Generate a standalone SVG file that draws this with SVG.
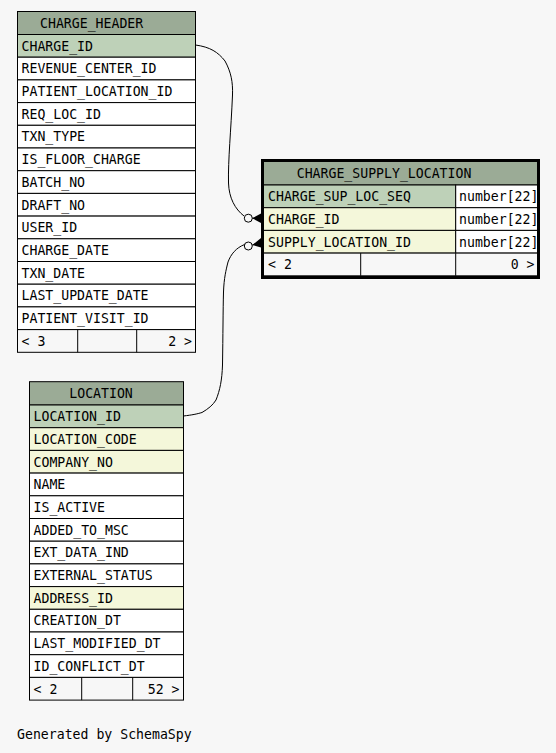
<svg xmlns="http://www.w3.org/2000/svg" width="556" height="753" viewBox="0 0 556 753">
<style>
text{font-family:"DejaVu Sans Mono","Liberation Mono",monospace;font-size:13.2px;fill:#000}
.c{stroke:#000;stroke-width:1}
.h{fill:#9bab96}
.pk{fill:#bed1b8}
.fk{fill:#f4f7da}
.w{fill:#ffffff}
.f{fill:#f7f7f7}
.e{text-anchor:end}
.ln{fill:none;stroke:#000;stroke-width:1}
</style>
<rect width="556" height="753" fill="#f7f7f7"/>
<g id="CHARGE_HEADER">
<rect class="c h" x="17.5" y="11.5" width="178" height="23"/>
<text x="40" y="27.8">CHARGE_HEADER</text>
<rect class="c pk" x="17.5" y="34.5" width="178" height="22.7"/>
<text x="21.5" y="50.6">CHARGE_ID</text>
<rect class="c w" x="17.5" y="57.2" width="178" height="22.7"/>
<text x="21.5" y="73.3">REVENUE_CENTER_ID</text>
<rect class="c w" x="17.5" y="79.9" width="178" height="22.7"/>
<text x="21.5" y="96">PATIENT_LOCATION_ID</text>
<rect class="c w" x="17.5" y="102.6" width="178" height="22.7"/>
<text x="21.5" y="118.7">REQ_LOC_ID</text>
<rect class="c w" x="17.5" y="125.3" width="178" height="22.7"/>
<text x="21.5" y="141.4">TXN_TYPE</text>
<rect class="c w" x="17.5" y="148" width="178" height="22.7"/>
<text x="21.5" y="164.1">IS_FLOOR_CHARGE</text>
<rect class="c w" x="17.5" y="170.7" width="178" height="22.7"/>
<text x="21.5" y="186.8">BATCH_NO</text>
<rect class="c w" x="17.5" y="193.4" width="178" height="22.7"/>
<text x="21.5" y="209.5">DRAFT_NO</text>
<rect class="c w" x="17.5" y="216.1" width="178" height="22.7"/>
<text x="21.5" y="232.2">USER_ID</text>
<rect class="c w" x="17.5" y="238.8" width="178" height="22.7"/>
<text x="21.5" y="254.9">CHARGE_DATE</text>
<rect class="c w" x="17.5" y="261.5" width="178" height="22.7"/>
<text x="21.5" y="277.6">TXN_DATE</text>
<rect class="c w" x="17.5" y="284.2" width="178" height="22.7"/>
<text x="21.5" y="300.3">LAST_UPDATE_DATE</text>
<rect class="c w" x="17.5" y="306.9" width="178" height="22.7"/>
<text x="21.5" y="323">PATIENT_VISIT_ID</text>
<rect class="c f" x="17.5" y="329.6" width="178" height="22.7"/>
<line class="c" x1="77.7" y1="329.6" x2="77.7" y2="352.3"/>
<line class="c" x1="136.7" y1="329.6" x2="136.7" y2="352.3"/>
<text x="21.5" y="345.7">&lt; 3</text>
<text class="e" x="192" y="345.7">2 &gt;</text>
</g>
<g id="LOCATION">
<rect class="c h" x="29.5" y="381.7" width="154" height="23.3"/>
<text x="69.3" y="398.2">LOCATION</text>
<rect class="c pk" x="29.5" y="405" width="154" height="22.7"/>
<text x="33.5" y="421.1">LOCATION_ID</text>
<rect class="c fk" x="29.5" y="427.7" width="154" height="22.7"/>
<text x="33.5" y="443.8">LOCATION_CODE</text>
<rect class="c fk" x="29.5" y="450.4" width="154" height="22.7"/>
<text x="33.5" y="466.5">COMPANY_NO</text>
<rect class="c w" x="29.5" y="473.1" width="154" height="22.7"/>
<text x="33.5" y="489.2">NAME</text>
<rect class="c w" x="29.5" y="495.8" width="154" height="22.7"/>
<text x="33.5" y="511.9">IS_ACTIVE</text>
<rect class="c w" x="29.5" y="518.5" width="154" height="22.7"/>
<text x="33.5" y="534.6">ADDED_TO_MSC</text>
<rect class="c w" x="29.5" y="541.2" width="154" height="22.7"/>
<text x="33.5" y="557.3">EXT_DATA_IND</text>
<rect class="c w" x="29.5" y="563.9" width="154" height="22.7"/>
<text x="33.5" y="580">EXTERNAL_STATUS</text>
<rect class="c fk" x="29.5" y="586.6" width="154" height="22.7"/>
<text x="33.5" y="602.7">ADDRESS_ID</text>
<rect class="c w" x="29.5" y="609.3" width="154" height="22.7"/>
<text x="33.5" y="625.4">CREATION_DT</text>
<rect class="c w" x="29.5" y="632" width="154" height="22.7"/>
<text x="33.5" y="648.1">LAST_MODIFIED_DT</text>
<rect class="c w" x="29.5" y="654.7" width="154" height="22.7"/>
<text x="33.5" y="670.8">ID_CONFLICT_DT</text>
<rect class="c f" x="29.5" y="677.4" width="154" height="22.7"/>
<line class="c" x1="81.7" y1="677.4" x2="81.7" y2="700.1"/>
<line class="c" x1="132.7" y1="677.4" x2="132.7" y2="700.1"/>
<text x="33.5" y="693.5">&lt; 2</text>
<text class="e" x="179.5" y="693.5">52 &gt;</text>
</g>
<g id="CHARGE_SUPPLY_LOCATION">
<rect class="c h" x="263.5" y="161.5" width="274" height="23.5"/>
<text x="296.7" y="178.2">CHARGE_SUPPLY_LOCATION</text>
<rect class="c pk" x="263.5" y="185" width="192.2" height="22.7"/>
<rect class="c w" x="455.7" y="185" width="81.8" height="22.7"/>
<text x="268" y="201.1">CHARGE_SUP_LOC_SEQ</text>
<text x="459" y="201.1">number[22]</text>
<rect class="c fk" x="263.5" y="207.7" width="192.2" height="22.7"/>
<rect class="c w" x="455.7" y="207.7" width="81.8" height="22.7"/>
<text x="268" y="223.8">CHARGE_ID</text>
<text x="459" y="223.8">number[22]</text>
<rect class="c fk" x="263.5" y="230.4" width="192.2" height="22.7"/>
<rect class="c w" x="455.7" y="230.4" width="81.8" height="22.7"/>
<text x="268" y="246.5">SUPPLY_LOCATION_ID</text>
<text x="459" y="246.5">number[22]</text>
<rect class="c f" x="263.5" y="253.1" width="274" height="22.7"/>
<line class="c" x1="360.7" y1="253.1" x2="360.7" y2="275.8"/>
<line class="c" x1="455.7" y1="253.1" x2="455.7" y2="275.8"/>
<text x="268" y="269.2">&lt; 2</text>
<text class="e" x="534.5" y="269.2">0 &gt;</text>
<rect x="262.5" y="160.5" width="276" height="117" fill="none" stroke="#000" stroke-width="3"/>
</g>
<g id="connectors">
<path class="ln" d="M195.5,45 C210,47 218,52 225,61 C231,72 233,82 232.5,95 C231,130 228,160 228.5,183 C229,198 235,209 244,216"/>
<circle class="ln" cx="248.3" cy="218.2" r="4" fill="#f7f7f7"/>
<polygon points="252.3,218.2 261,213.5 261,223" fill="#000"/>
<line class="ln" x1="252.3" y1="218.2" x2="261" y2="218.2"/>
<path class="ln" d="M183.5,416 C192,415 197,414 202,412.5 C208,409 213,405 216,400 C220,390 222,380 222.5,365 C223,335 223,310 223.5,292 C224,278 226,270 228,262 C231,254 236,248 244.5,244.5"/>
<circle class="ln" cx="248.3" cy="246" r="4" fill="#f7f7f7"/>
<polygon points="252.3,245 261,238 261,247.5" fill="#000"/>
<line class="ln" x1="252.3" y1="245" x2="261" y2="242.5"/>
</g>
<text x="17" y="739">Generated by SchemaSpy</text>
</svg>
